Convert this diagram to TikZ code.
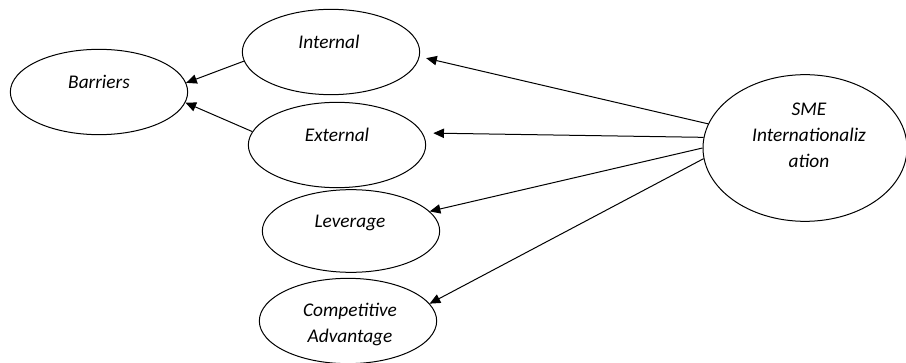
\documentclass[tikz,border=0pt]{standalone}
\usepackage{fontspec}
\setmainfont{Carlito}
\usetikzlibrary{shapes.geometric,arrows.meta}
\begin{document}
\begin{tikzpicture}[
    x=0.75pt, y=-0.75pt,
    oval/.style={draw, ellipse, inner sep=0pt, minimum width=133pt, minimum height=64pt},
    txt/.style={font=\fontsize{14.5}{19.5}\selectfont\itshape, align=center, inner sep=0pt},
    >={Triangle[length=8pt,width=7pt]},
    line width=0.75pt
]
\useasboundingbox (0,0) rectangle (906,363);
% ellipses
\node[oval] (bar) at (99,92) {};
\node[oval] (int) at (331,52) {};
\node[oval] (ext) at (337,145) {};
\node[oval, minimum height=62pt] (lev) at (351,231) {};
\node[oval, minimum height=64pt] (comp) at (348,321) {};
\node[oval, minimum width=153pt, minimum height=110pt] (sme) at (805,148) {};
% texts
\node[txt] (bar-t) at (99,82) {Barriers};
\node[txt] (int-t) at (329,42) {Internal};
\node[txt] (ext-t) at (337,135) {External};
\node[txt] (lev-t) at (350,223) {Leverage};
\node[txt] (comp-t) at (350,324) {Competitive\\Advantage};
\node[txt] (sme-t) at (809,135) {SME\\Internationaliz\\ation};
% arrows
\draw[->] (int.186.5) -- (bar.6.4);
\draw[->] (ext.171.7) -- (bar.-7);
\draw[->, shorten >=5pt] (sme.166) -- (int.-3);
\draw[->, shorten >=8pt] (sme.174) -- (ext.8.5);
\draw[->] (sme.180) -- (lev.14.5);
\draw[->] (sme.186) -- (comp.12);
\end{tikzpicture}
\end{document}
